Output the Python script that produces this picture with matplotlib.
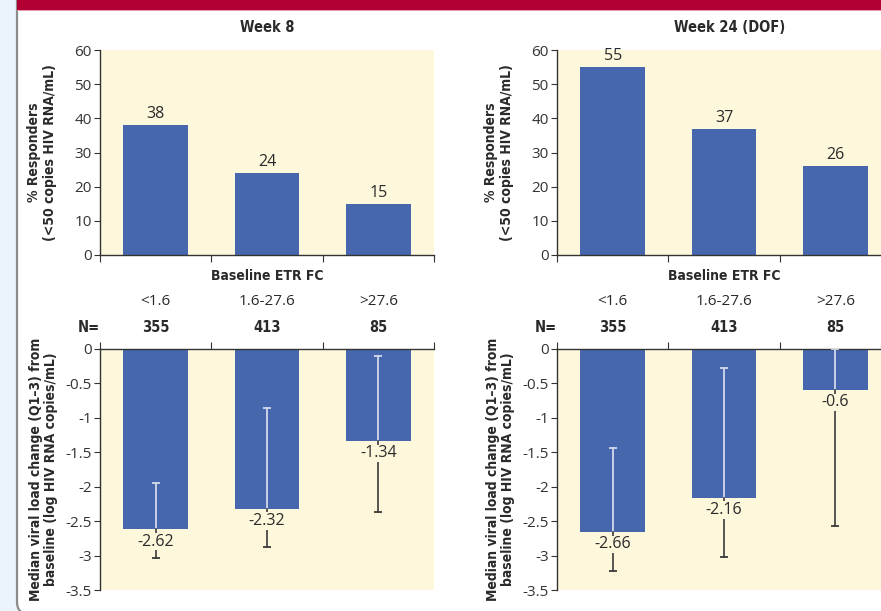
import matplotlib
matplotlib.use('Agg')
import matplotlib.pyplot as plt
import matplotlib.patches as mpatches
import matplotlib.transforms as mtransforms
from matplotlib import font_manager
from matplotlib.ticker import FuncFormatter

# data
categories = ['<1.6', '1.6-27.6', '>27.6']
n_patients = [355, 413, 85]
panel_titles = ['Week 8', 'Week 24 (DOF)']
responders_w8 = [38, 24, 15]
responders_w24 = [55, 37, 26]
median_w8 = [-2.62, -2.32, -1.34]
median_w24 = [-2.66, -2.16, -0.6]
q1_w8 = [-1.94, -0.85, -0.10]
q3_w8 = [-3.04, -2.88, -2.37]
q1_w24 = [-1.44, -0.28, 0.0]
q3_w24 = [-3.22, -3.02, -2.57]

BAR = '#4666ad'
CREAM = '#fdf7dc'
TEXT = '#2a2a2a'
LIGHT_ERR = '#d3d9ec'
DARK_ERR = '#3a3a3a'

plt.rcParams['axes.unicode_minus'] = False
names = {f.name for f in font_manager.fontManager.ttflist}
plt.rcParams['font.family'] = ['Open Sans', 'DejaVu Sans']
if 'Liberation Sans Narrow' in names:
    BOLD = dict(family='Liberation Sans Narrow', fontweight='bold')
else:
    BOLD = dict(family='DejaVu Sans', fontstretch='condensed', fontweight='bold')

W, H = 881, 611
fig = plt.figure(figsize=(W / 100, H / 100), dpi=100)


def rect(x0, y0, x1, y1):
    return [x0 / W, 1 - y1 / H, (x1 - x0) / W, (y1 - y0) / H]


# page decoration: side strip, card border, red band
bg = fig.add_axes([0, 0, 1, 1], zorder=-5)
bg.set_xlim(0, W)
bg.set_ylim(H, 0)
bg.axis('off')
bg.add_patch(mpatches.Rectangle((0, 0), 17, H, color='#ebf3fb', lw=0))
bg.add_patch(mpatches.FancyBboxPatch((17, -20), 900, 634, boxstyle='round,pad=0,rounding_size=12',
                                     fc='white', ec='#8c8c8c', lw=1.6))
bg.add_patch(mpatches.Rectangle((17, 0), W, 9.5, color='#b20034', lw=0))
bg.add_patch(mpatches.Rectangle((17, 9.5), W, 1.2, color='#e59ab0', lw=0))

fmt = FuncFormatter(lambda v, p: f'{v:g}')
x = [0.5, 1.5, 2.5]

panels = [
    (100, responders_w8, median_w8, q1_w8, q3_w8, 267),
    (557, responders_w24, median_w24, q1_w24, q3_w24, 730),
]

for k, (left, resp, med, q1, q3, title_x) in enumerate(panels):
    # responders
    ax = fig.add_axes(rect(left, 50, left + 334, 255))
    ax.set_facecolor(CREAM)
    ax.bar(x, resp, width=0.58, color=BAR, zorder=2)
    for xi, r in zip(x, resp):
        ax.annotate(f'{r}', (xi, r), xytext=(0, 2), textcoords='offset points',
                    ha='center', va='bottom', fontsize=11.5, color=TEXT)
    ax.set_xlim(0, 3)
    ax.set_ylim(0, 60)
    ax.set_yticks(range(0, 61, 10))
    ax.set_xticks([0, 1, 2, 3])
    ax.set_xticklabels([])
    for s in ['top', 'right']:
        ax.spines[s].set_visible(False)
    for s in ['left', 'bottom']:
        ax.spines[s].set_color('#333333')
        ax.spines[s].set_linewidth(1)
    ax.tick_params(axis='y', length=4, pad=2, labelsize=11, colors='#333333')
    ax.tick_params(axis='x', length=5, colors='#333333')
    ax.set_ylabel('% Responders\n(<50 copies HIV RNA/mL)', fontsize=10, color=TEXT,
                  linespacing=1.1, **BOLD)
    ax.yaxis.set_label_coords(-0.13, 0.5)

    fig.text(title_x / W, 1 - 28 / H, panel_titles[k], ha='center', va='center',
             fontsize=10.5, color=TEXT, **BOLD)

    tr = mtransforms.blended_transform_factory(ax.transData, fig.transFigure)
    ax.text(1.5, 1 - 276 / H, 'Baseline ETR FC', transform=tr, ha='center', va='center',
            fontsize=10, color=TEXT, **BOLD)
    for xi, c, n in zip(x, categories, n_patients):
        ax.text(xi, 1 - 302 / H, c, transform=tr, ha='center', va='center',
                fontsize=11, color=TEXT)
        ax.text(xi, 1 - 327 / H, f'{n}', transform=tr, ha='center', va='center',
                fontsize=10.5, color=TEXT, **BOLD)
    ax.text(-0.005, 1 - 327 / H, 'N=', transform=tr, ha='right', va='center',
            fontsize=10.5, color=TEXT, **BOLD)

    # viral load change
    bx = fig.add_axes(rect(left, 349, left + 334, 590))
    bx.set_facecolor(CREAM)
    bx.bar(x, med, width=0.58, color=BAR, zorder=2)
    for xi, m, hi, lo in zip(x, med, q1, q3):
        bx.plot([xi, xi], [m, hi], color=LIGHT_ERR, lw=1.3, zorder=3)
        bx.plot([xi], [hi], marker='_', ms=6, mew=1.3, color=LIGHT_ERR, zorder=3)
        bx.plot([xi, xi], [m, lo], color=DARK_ERR, lw=1.2, zorder=3)
        bx.plot([xi], [lo], marker='_', ms=6, mew=1.3, color=DARK_ERR, zorder=3)
        bx.annotate(f'{m:g}', (xi, m), xytext=(0, -3), textcoords='offset points',
                    ha='center', va='top', fontsize=11.5, color=TEXT, zorder=4,
                    bbox=dict(fc=CREAM, ec='none', pad=0.5))
    bx.set_xlim(0, 3)
    bx.set_ylim(-3.5, 0)
    bx.set_yticks([0, -0.5, -1, -1.5, -2, -2.5, -3, -3.5])
    bx.yaxis.set_major_formatter(fmt)
    bx.xaxis.tick_top()
    bx.set_xticks([0, 1, 2, 3])
    bx.set_xticklabels([])
    for s in ['bottom', 'right']:
        bx.spines[s].set_visible(False)
    for s in ['left', 'top']:
        bx.spines[s].set_color('#333333')
        bx.spines[s].set_linewidth(1)
    bx.tick_params(axis='y', length=4, pad=2, labelsize=11, colors='#333333')
    bx.tick_params(axis='x', length=5, colors='#333333')
    bx.set_ylabel('Median viral load change (Q1\u20133) from\nbaseline (log HIV RNA copies/mL)',
                  fontsize=10, color=TEXT, linespacing=1.1, **BOLD)
    bx.yaxis.set_label_coords(-0.125, 0.5)

fig.savefig('out.png', dpi=100)
